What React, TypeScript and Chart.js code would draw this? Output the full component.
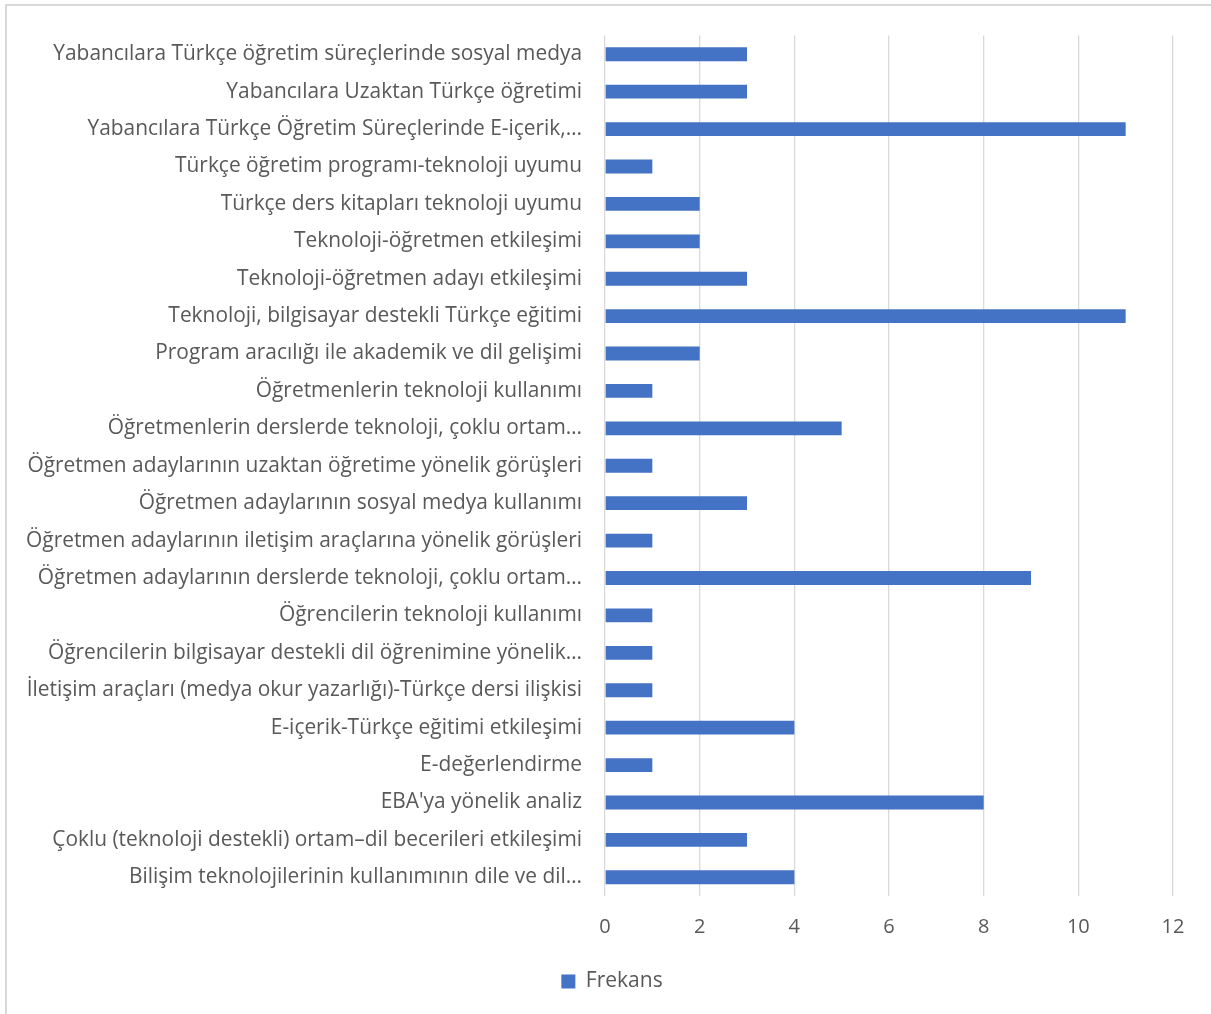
import React, { useEffect, useRef } from "react";
import { Chart, registerables } from "chart.js";

Chart.register(...registerables);

const categories: string[] = [
  "Yabancılara Türkçe öğretim süreçlerinde sosyal medya",
  "Yabancılara Uzaktan Türkçe öğretimi",
  "Yabancılara Türkçe Öğretim Süreçlerinde E-içerik,…",
  "Türkçe öğretim programı-teknoloji uyumu",
  "Türkçe ders kitapları teknoloji uyumu",
  "Teknoloji-öğretmen etkileşimi",
  "Teknoloji-öğretmen adayı etkileşimi",
  "Teknoloji, bilgisayar destekli Türkçe eğitimi",
  "Program aracılığı ile akademik ve dil gelişimi",
  "Öğretmenlerin teknoloji kullanımı",
  "Öğretmenlerin derslerde teknoloji, çoklu ortam…",
  "Öğretmen adaylarının uzaktan öğretime yönelik görüşleri",
  "Öğretmen adaylarının sosyal medya kullanımı",
  "Öğretmen adaylarının iletişim araçlarına yönelik görüşleri",
  "Öğretmen adaylarının derslerde teknoloji, çoklu ortam…",
  "Öğrencilerin teknoloji kullanımı",
  "Öğrencilerin bilgisayar destekli dil öğrenimine yönelik…",
  "İletişim araçları (medya okur yazarlığı)-Türkçe dersi ilişkisi",
  "E-içerik-Türkçe eğitimi etkileşimi",
  "E-değerlendirme",
  "EBA'ya yönelik analiz",
  "Çoklu (teknoloji destekli) ortam–dil becerileri etkileşimi",
  "Bilişim teknolojilerinin kullanımının dile ve dil…",
];

const frekans: number[] = [3, 3, 11, 1, 2, 2, 3, 11, 2, 1, 5, 1, 3, 1, 9, 1, 1, 1, 4, 1, 8, 3, 4];

const seriesName = "Frekans";
const xMin = 0;
const xMax = 12;
const xStep = 2;

const W = 1211;
const H = 1014;
const FONT = "'Open Sans', Lato, sans-serif";
const TEXT = "#595959";

const legendShift = {
  id: "legendShift",
  afterLayout(chart: any) {
    if (chart.legend) chart.legend.left += 51;
  },
};

export default function App() {
  const ref = useRef<HTMLCanvasElement>(null);
  useEffect(() => {
    if (!ref.current) return;
    const chart = new Chart(ref.current, {
      type: "bar",
      data: {
        labels: categories,
        datasets: [
          {
            label: seriesName,
            data: frekans,
            backgroundColor: "#4472C4",
            borderWidth: 0,
            categoryPercentage: 1,
            barPercentage: 0.37,
          },
        ],
      },
      options: {
        indexAxis: "y",
        responsive: false,
        animation: false,
        devicePixelRatio: 1,
        layout: { padding: { top: 34, right: 38, bottom: 12, left: 0 } },
        plugins: {
          legend: {
            position: "bottom",
            labels: {
              boxWidth: 14,
              boxHeight: 14,
              color: TEXT,
              font: { family: FONT, size: 21 },
              padding: 8,
            },
          },
          tooltip: { enabled: false },
        },
        scales: {
          x: {
            min: xMin,
            max: xMax,
            ticks: { stepSize: xStep, color: TEXT, font: { family: FONT, size: 20 }, padding: 19 },
            grid: { color: "#d9d9d9", lineWidth: 1.3, drawTicks: false },
            border: { display: false },
            afterFit: (s: any) => {
              s.height = 67;
            },
          },
          y: {
            ticks: { color: TEXT, font: { family: FONT, size: 20.9 }, padding: 23, autoSkip: false },
            grid: { display: false, drawTicks: false },
            border: { display: false },
            afterFit: (s: any) => {
              s.width = 605;
            },
          },
        },
      },
      plugins: [legendShift],
    });
    return () => chart.destroy();
  }, []);
  return (
    <div style={{ position: "fixed", left: 0, top: 0, width: W, height: H, background: "#fff" }}>
      <div
        style={{
          position: "absolute",
          left: 5,
          top: 4,
          width: W,
          height: H,
          borderLeft: "2px solid #d9d9d9",
          borderTop: "2px solid #d9d9d9",
          boxSizing: "border-box",
        }}
      />
      <canvas ref={ref} width={W} height={H} style={{ position: "absolute", left: 0, top: 0 }} />
    </div>
  );
}
